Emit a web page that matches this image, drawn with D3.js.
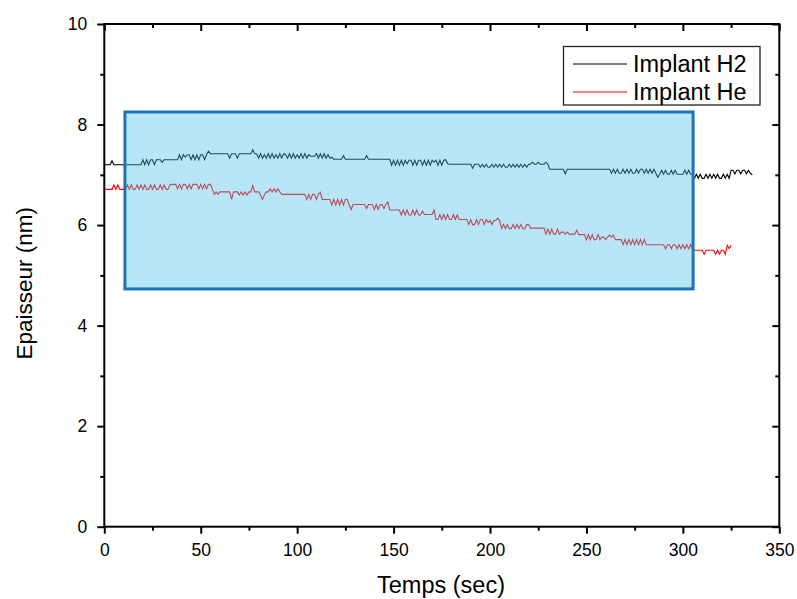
<!DOCTYPE html>
<html><head><meta charset="utf-8">
<script src="https://cdn.jsdelivr.net/npm/d3@7"></script>
<style>
body{margin:0;background:#fff}
svg{display:block}
text{font-family:Arial,"Liberation Sans",sans-serif;fill:#000}
</style>
</head><body>
<svg id="chart" width="797" height="599"></svg>
<script>
// ---------- data ----------
const seriesNames = ["Implant H2", "Implant He"];
const seriesColors = ["#000000", "#ff0000"];
const timeStepSec = 1; // one sample per second, starting at t = 0
const xTickValues = [0, 50, 100, 150, 200, 250, 300, 350];
const yTickValues = [0, 2, 4, 6, 8, 10];
const xMinorTicks = [25, 75, 125, 175, 225, 275, 325];
const yMinorTicks = [1, 3, 5, 7, 9];
// highlighted region (data units)
const boxTime = [10.7, 305.3];
const boxThickness = [4.73, 8.25];

// Implant H2 thickness (nm), t = 0..336 s
const h2Values = [
7.2,7.2,7.2,7.2, 7.28,
7.2,7.2,7.2,7.2,7.2,7.2,7.2,7.2,7.2,7.2,7.2,7.2,7.2,7.2,7.2,
7.3,7.2,7.3,7.2,7.3,7.3,7.2,7.3,7.3,7.3,7.25,7.3,7.3,
7.3,7.3,7.3,7.3,7.3,7.3,
7.4,7.3,7.4,7.35,7.4,7.4,7.3,7.4,7.3,7.4,7.3,7.4,7.4,7.3,7.4,
7.47,
7.42,7.42,7.42,7.42,7.42,7.42,7.42,7.42,7.42,7.42,
7.33, 7.42,7.42,7.42, 7.33,
7.42,7.42,7.42,7.42,7.42,7.42,7.42,
7.5, 7.42,
7.42,7.33,7.42,7.33,7.4,7.33,7.42,7.33,7.42,7.33,
7.4,7.33,7.42,7.33,7.42,7.4,7.33,7.42,7.33,7.42,
7.33,7.4,7.33,7.42,7.33,7.42,7.33,7.4,
7.37,7.37,7.37,
7.42,7.33,7.42,7.33,7.42,7.33,7.4,7.33,7.35,
7.31,7.31,7.31,7.31,7.31, 7.38,
7.31,7.31,7.31,7.31,7.31,7.31,7.31,7.31,7.31,7.31,7.31, 7.38,
7.31,7.31,7.31,7.31,7.31,7.31,7.31,7.31,7.31,7.31,7.31,7.31,
7.19,7.29,7.19,7.29,7.19,7.29,7.19,7.29,7.22,7.29,
7.29,7.19,7.29,7.19,7.29,7.29,7.19,7.29,7.19,7.29,
7.19,7.29,7.25,7.29,7.19,7.29,7.19,7.29,7.3,7.22,
7.21,7.21,7.21,7.21,7.21,7.21,7.21,7.21,7.21,7.21,7.21,7.21,
7.13, 7.21,7.21,7.21,
7.15,7.21,7.15,7.21,7.15,7.15,7.21,7.15,7.21,7.15,
7.21,7.15,7.21,7.15,7.15,7.21,7.15,7.21,7.15,7.21,
7.15,7.21,7.15,7.21,7.15,7.21,7.21,7.25,7.21,7.21,
7.25,7.21,7.21,7.21,7.25,7.21,
7.11,7.11,7.11,7.11,7.11,7.11,7.11,7.11, 7.02,
7.11,7.11,7.11,7.11,7.11,7.11,7.11,7.11,7.11,7.11,7.11,7.11,7.11,7.11,7.11,7.11,7.11,7.11,7.11,7.11,7.11,7.11,7.11,
7.03,7.11,7.03,7.11,7.03,7.03,7.11,7.03,7.11,7.03,
7.11,7.03,7.03,7.11,7.03,7.11,7.11,7.03,7.11,7.03,
7.11,7.03,7.11,7.03,6.95,
7.01,7.09,7.01,7.09,7.01,7.01,7.09,7.01,7.09,7.01,
7.01,7.01,7.01,7.09,7.01,7.09,7.01,7.01,
6.93,7.01,6.93,7.01,6.93,6.93,7.01,6.93,7.01,6.93,
7.01,6.93,7.01,6.93,6.93,7.01,6.93,7.01,6.93,
7.09,7.09,7.02,7.09,7.09,7.02,7.09,7.09,7.02,7.09,7.03,7.0
];

// Implant He thickness (nm), t = 0..325 s
const heValues = [
6.71,6.71,6.71,6.71,6.71, 6.8, 6.71, 6.8, 6.71,6.71,6.71,6.71,
6.8,6.71,6.8,6.71,6.71,6.8,6.71,6.8,6.71,6.8,
6.71,6.71,6.8,6.71,6.8,6.71,6.71,6.8,6.71,6.8,
6.71,6.71,6.8,6.81,
6.81,6.81,6.72,6.81,6.72,6.81,6.81,6.72,6.81,6.72,
6.81,6.81,6.81,6.72,6.81,6.72,6.81,6.72,6.81,6.81,
6.72,
6.61,6.66,6.61,6.66,6.66,6.66,6.66,6.66,6.66,6.51,
6.66,6.66,6.66,6.6,6.66,6.6,6.66,6.6,6.66,6.66,
6.79,6.66,6.66,6.66,6.6,6.51,6.6,6.66,6.66,6.72,
6.66,6.72,6.66,6.72,6.66,
6.61,6.61,6.61,6.61,6.61,6.61,6.61,6.61,6.61,6.61,6.61,6.61,6.61,
6.51,6.61,6.51,6.61,6.61,6.51,6.61,6.65,
6.51,6.51,6.51,6.51,6.51,
6.4,6.51,6.4,6.51,6.4,6.51,6.4,6.51,6.51,6.4,6.31,
6.41,6.41,6.41,6.41,6.41,6.41,6.41, 6.33, 6.41,6.41,6.41,
6.31,6.41,6.31,6.41,6.41,6.33,6.41,6.46,
6.3,6.3,6.3,6.3,6.3,6.3,
6.2,6.3,6.2,6.3,6.2,6.2,6.3,6.2,6.3,6.2,6.2,6.28,
6.21,6.21,6.21,6.21,6.21, 6.3, 6.11,
6.11,6.21,6.11,6.21,6.11,6.21,6.11,6.11,6.21,6.11,6.2,
6.11,6.11,6.11,6.11,6.11,
6.01,6.11,6.01,6.01,6.11,6.01,6.11,6.11,6.01,6.11,6.05,
6.09,6.01,6.09,6.09,6.14,6.09,
5.93,6.01,5.93,6.01,5.93,5.93,6.01,5.93,6.01,5.93,6.01,5.93,5.93,6.01,6.01,
5.94,5.94,5.94,5.94,5.94,5.94,5.94,5.94,
5.82,5.92,5.82,5.92,5.82,5.82,5.92,5.82,5.86,5.86,5.82,5.86,
5.82,5.82,5.82,5.82, 5.9, 5.81,5.81,5.81,5.81,
5.71,5.81,5.71,5.81,5.71,5.71,5.81,5.71,5.76,5.76,5.71,5.76,5.8,5.76,5.8,
5.71,5.71,5.71,5.71,
5.61,5.71,5.61,5.71,5.61,5.71,5.61,5.71,5.61,5.71,5.61,5.71,5.61,
5.61,5.61,5.61,5.61,5.61,5.61,5.61,5.61,5.61,
5.53,5.61,5.61,5.53,5.61,5.61,5.53,5.61,5.53,5.61,5.53,5.61,5.53,5.61,5.52,
5.5,5.5,5.5,5.5,5.5, 5.42, 5.5,5.5,5.5,5.5,5.5,
5.42,5.5,5.42,5.5,5.5,5.42,
5.6,5.53,5.6
];
const seriesValues = [h2Values, heValues];

// ---------- chart ----------
const svg = d3.select("#chart");
const X0 = 104.3, X1 = 779.3, Y0 = 526.7, Y1 = 24;
const x = d3.scaleLinear().domain([0, 350]).range([X0, X1]);
const y = d3.scaleLinear().domain([0, 10]).range([Y0, Y1]);

const line = d3.line().x((d, i) => x(i * timeStepSec)).y(d => y(d));

seriesValues.forEach((vals, k) => {
  svg.append("path").datum(vals)
    .attr("d", line)
    .attr("fill", "none")
    .attr("stroke", seriesColors[k])
    .attr("stroke-width", 1.1)
    .attr("stroke-linejoin", "miter");
});

// highlight box (semi-transparent, on top of the lines)
svg.append("rect")
  .attr("x", x(boxTime[0])).attr("y", y(boxThickness[1]))
  .attr("width", x(boxTime[1]) - x(boxTime[0]))
  .attr("height", y(boxThickness[0]) - y(boxThickness[1]))
  .attr("fill", "rgb(78,193,233)").attr("fill-opacity", 0.4)
  .attr("stroke", "#1b74bc").attr("stroke-width", 3);

// axes
function styleAxis(g) {
  g.select(".domain").remove();
  g.selectAll(".tick line").attr("stroke", "#000").attr("stroke-width", 2);
  g.selectAll("text").attr("font-size", "17.5px").attr("fill", "#000")
    .attr("font-family", "Arial, 'Liberation Sans', sans-serif");
}
// bottom
svg.append("g").attr("transform", `translate(0,${Y0})`)
  .call(d3.axisBottom(x).tickValues(xTickValues).tickSize(7).tickPadding(10).tickFormat(d3.format("d")))
  .call(styleAxis);
svg.append("g").attr("transform", `translate(0,${Y0})`)
  .call(d3.axisBottom(x).tickValues(xMinorTicks).tickSize(4).tickFormat(""))
  .call(styleAxis);
// top (inward)
svg.append("g").attr("transform", `translate(0,${Y1})`)
  .call(d3.axisTop(x).tickValues(xTickValues).tickSize(-7).tickFormat(""))
  .call(styleAxis);
svg.append("g").attr("transform", `translate(0,${Y1})`)
  .call(d3.axisTop(x).tickValues(xMinorTicks).tickSize(-4).tickFormat(""))
  .call(styleAxis);
// left
svg.append("g").attr("transform", `translate(${X0},0)`)
  .call(d3.axisLeft(y).tickValues(yTickValues).tickSize(7).tickPadding(10).tickFormat(d3.format("d")))
  .call(styleAxis);
svg.append("g").attr("transform", `translate(${X0},0)`)
  .call(d3.axisLeft(y).tickValues(yMinorTicks).tickSize(4).tickFormat(""))
  .call(styleAxis);
// right (inward)
svg.append("g").attr("transform", `translate(${X1},0)`)
  .call(d3.axisRight(y).tickValues(yTickValues).tickSize(-7).tickFormat(""))
  .call(styleAxis);
svg.append("g").attr("transform", `translate(${X1},0)`)
  .call(d3.axisRight(y).tickValues(yMinorTicks).tickSize(-4).tickFormat(""))
  .call(styleAxis);

// frame
svg.append("rect").attr("x", X0).attr("y", Y1)
  .attr("width", X1 - X0).attr("height", Y0 - Y1)
  .attr("fill", "none").attr("stroke", "#000").attr("stroke-width", 2);

// axis titles
svg.append("text").attr("x", 441).attr("y", 593)
  .attr("text-anchor", "middle").attr("font-size", "23.5px").text("Temps (sec)");
svg.append("text").attr("transform", `translate(32,${(Y0 + Y1) / 2 + 8}) rotate(-90)`)
  .attr("text-anchor", "middle").attr("font-size", "22.5px").text("Epaisseur (nm)");

// legend
const lg = svg.append("g");
lg.append("rect").attr("x", 563.5).attr("y", 46.5).attr("width", 196.5).attr("height", 58.5)
  .attr("fill", "#fff").attr("stroke", "#222").attr("stroke-width", 1.3);
seriesNames.forEach((name, k) => {
  const ly = 64 + k * 28;
  lg.append("line").attr("x1", 573).attr("x2", 627).attr("y1", ly).attr("y2", ly)
    .attr("stroke", seriesColors[k]).attr("stroke-width", 1);
  lg.append("text").attr("x", 633).attr("y", ly).attr("dy", "0.36em")
    .attr("font-size", "23.5px").text(name);
});
</script>
</body></html>
